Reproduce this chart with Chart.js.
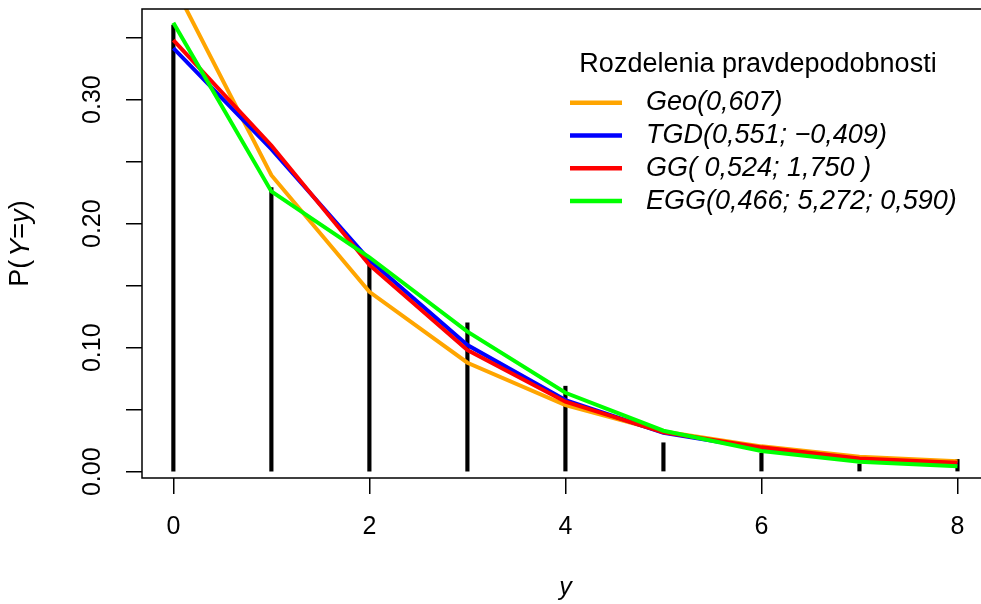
<!DOCTYPE html>
<html><head><meta charset="utf-8">
<script src="https://cdn.jsdelivr.net/npm/chart.js@4/dist/chart.umd.min.js"></script>
<style>html,body{margin:0;padding:0;background:#fff;overflow:hidden}canvas{display:block}</style>
</head><body>
<canvas id="c" width="981" height="604"></canvas>
<script>
const yValues   = [0, 1, 2, 3, 4, 5, 6, 7, 8];
const observed  = [0.360, 0.229, 0.170, 0.120, 0.069, 0.0234, 0.0150, 0.0063, 0.0100];
const geo       = [0.393, 0.2390, 0.1450, 0.0879, 0.0538, 0.0324, 0.0205, 0.0121, 0.0086];
const tgd       = [0.3415, 0.2600, 0.1707, 0.1022, 0.0578, 0.0315, 0.0186, 0.0097, 0.0062];
const gg        = [0.348, 0.263, 0.1667, 0.0981, 0.0565, 0.0318, 0.0197, 0.0108, 0.0073];
const egg       = [0.362, 0.226, 0.1729, 0.1129, 0.0637, 0.0331, 0.0167, 0.0081, 0.0044];
const seriesLabels = ['Geo(0,607)', 'TGD(0,551; \u22120,409)', 'GG( 0,524; 1,750 )', 'EGG(0,466; 5,272; 0,590)'];
const seriesColors = ['#FFA500', '#0000FF', '#FF0000', '#00FF00'];
const legendTitle = 'Rozdelenia pravdepodobnosti';
const xTickValues = [0, 2, 4, 6, 8];
const yTickValues = [0, 0.05, 0.10, 0.15, 0.20, 0.25, 0.30, 0.35];
const yTickLabels = ['0.00', '', '0.10', '', '0.20', '', '0.30', ''];
const xTitle = 'y';

const FONT = "'Liberation Sans', Arial, Helvetica, sans-serif";
const seriesData = [geo, tgd, gg, egg];

const datasets = [{
  type: 'bar',
  label: 'observed',
  data: yValues.map((x, i) => ({x: x, y: observed[i]})),
  backgroundColor: '#000',
  barThickness: 3.5,
  order: 10
}];
seriesData.forEach((s, k) => {
  datasets.push({
    type: 'line',
    label: seriesLabels[k],
    data: yValues.map((x, i) => ({x: x, y: s[i]})),
    borderColor: seriesColors[k],
    backgroundColor: seriesColors[k],
    borderWidth: 4,
    pointRadius: 0,
    tension: 0,
    fill: false,
    clip: 0,
    order: 4 - k
  });
});

const decor = {
  id: 'decor',
  afterDraw(chart) {
    const {ctx, chartArea: a, scales} = chart;
    const xs = scales.x;
    ctx.save();
    // frame: left, top, bottom (right side lies outside the window)
    ctx.strokeStyle = '#000';
    ctx.lineWidth = 1.5;
    ctx.lineCap = 'square';
    ctx.beginPath();
    ctx.moveTo(a.right + 2, a.top);
    ctx.lineTo(a.left, a.top);
    ctx.lineTo(a.left, a.bottom);
    ctx.lineTo(a.right + 2, a.bottom);
    ctx.stroke();

    // x title
    ctx.fillStyle = '#000';
    ctx.font = 'italic 25px ' + FONT;
    ctx.textAlign = 'center';
    ctx.textBaseline = 'alphabetic';
    ctx.fillText(xTitle, xs.getPixelForValue(4), 595);

    // y title with mixed styles
    const parts = [['P(', '', 3], ['Y', 'italic ', 0], ['=', '', 0], ['y', 'italic ', 0], [')', '', 0]];
    ctx.save();
    ctx.translate(21, (a.top + a.bottom) / 2);
    ctx.rotate(-Math.PI / 2);
    let total = 0;
    parts.forEach(p => { ctx.font = p[1] + '27px ' + FONT; total += ctx.measureText(p[0]).width + p[2]; });
    let cx = -total / 2;
    ctx.textAlign = 'left';
    ctx.textBaseline = 'middle';
    parts.forEach(p => {
      ctx.font = p[1] + '27px ' + FONT;
      ctx.fillText(p[0], cx, 0);
      cx += ctx.measureText(p[0]).width + p[2];
    });
    ctx.restore();

    // legend
    ctx.font = '27px ' + FONT;
    ctx.textAlign = 'center';
    ctx.textBaseline = 'alphabetic';
    ctx.fillText(legendTitle, 758, 72);
    const rowY0 = 102.7, rowGap = 32.8;
    chart.data.datasets.filter(d => d.type === 'line').forEach((d, i) => {
      const ly = rowY0 + i * rowGap;
      ctx.strokeStyle = d.borderColor;
      ctx.lineWidth = 4.5;
      ctx.lineCap = 'butt';
      ctx.beginPath();
      ctx.moveTo(570, ly);
      ctx.lineTo(622, ly);
      ctx.stroke();
      ctx.fillStyle = '#000';
      ctx.font = 'italic 27px ' + FONT;
      ctx.textAlign = 'left';
      ctx.fillText(d.label, 646, ly + 7.5);
    });
    ctx.restore();
  }
};

new Chart(document.getElementById('c'), {
  type: 'line',
  data: {datasets: datasets},
  options: {
    responsive: false,
    animation: false,
    devicePixelRatio: 1,
    layout: {padding: {left: 0, top: 9, right: 0, bottom: 0}},
    plugins: {legend: {display: false}, tooltip: {enabled: false}, title: {display: false}},
    scales: {
      x: {
        type: 'linear',
        offset: false,
        min: -0.32,
        max: 8.24,
        afterBuildTicks: s => { s.ticks = xTickValues.map(v => ({value: v})); },
        afterFit: s => { s.height = 126; s.paddingLeft = 0; s.paddingRight = 0; },
        grid: {offset: false, drawOnChartArea: false, drawTicks: true, tickLength: 16, tickColor: '#000', lineWidth: 1.5},
        border: {display: false},
        ticks: {
          autoSkip: false, maxRotation: 0, minRotation: 0, padding: 18.5,
          color: '#000', font: {family: FONT, size: 25, lineHeight: 1.2},
          callback: v => String(v)
        }
      },
      y: {
        type: 'linear',
        offset: false,
        beginAtZero: false,
        min: -0.005,
        max: 0.373,
        afterBuildTicks: s => { s.ticks = yTickValues.map(v => ({value: v})); },
        afterFit: s => { s.width = 142; s.paddingTop = 0; s.paddingBottom = 0; },
        grid: {offset: false, drawOnChartArea: false, drawTicks: true, tickLength: 16, tickColor: '#000', lineWidth: 1.5},
        border: {display: false},
        ticks: {
          autoSkip: false, minRotation: 90, maxRotation: 90, crossAlign: 'center', padding: 9,
          color: '#000', font: {family: FONT, size: 25, lineHeight: 1.2},
          callback: (v, i) => yTickLabels[i]
        }
      }
    }
  },
  plugins: [decor]
});
</script>
</body></html>
